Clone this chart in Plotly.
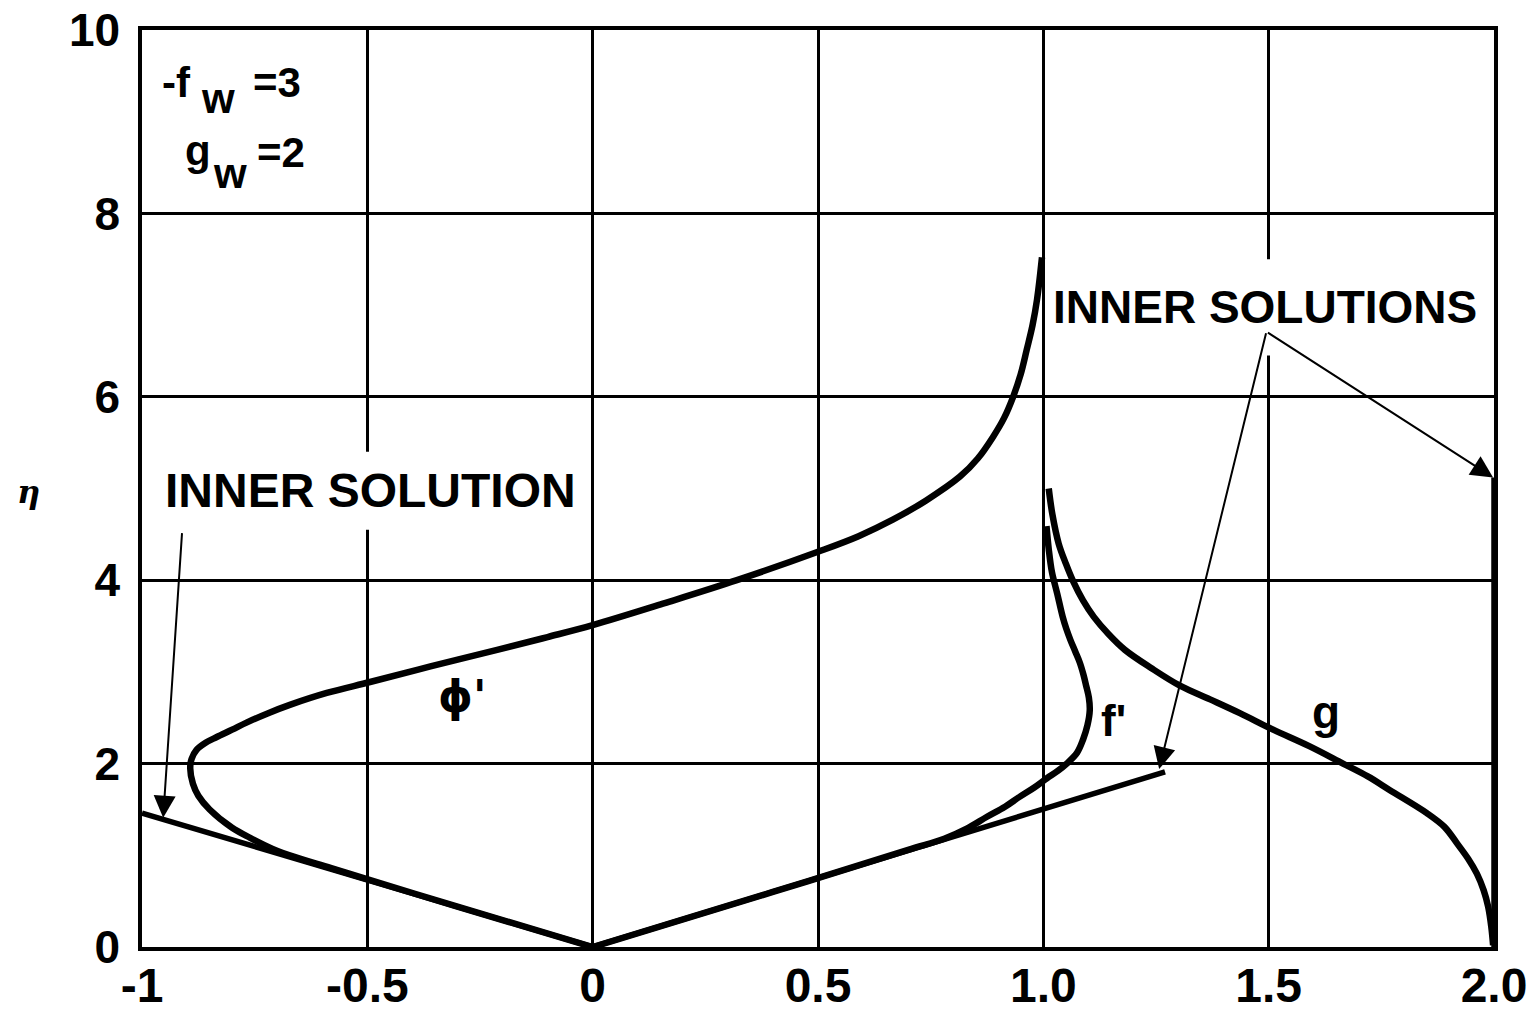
import plotly.graph_objects as go

# φ' curve
phi_x = [0.0, -0.3, -0.58, -0.66, -0.71, -0.76, -0.80, -0.85, -0.875, -0.887, -0.893, -0.89, -0.879,
         -0.858, -0.834, -0.80, -0.767, -0.72, -0.672, -0.59, -0.494, -0.36, -0.212, -0.1, 0.0,
         0.16, 0.32, 0.5, 0.59, 0.666, 0.74, 0.815, 0.855, 0.888, 0.913, 0.933, 0.95, 0.963,
         0.976, 0.986, 0.997]
phi_y = [0.0, 0.44, 0.86, 0.98, 1.07, 1.19, 1.30, 1.50, 1.65, 1.78, 1.95, 2.05, 2.15,
         2.23, 2.29, 2.37, 2.45, 2.55, 2.64, 2.77, 2.89, 3.06, 3.24, 3.38, 3.51,
         3.75, 4.0, 4.31, 4.48, 4.66, 4.87, 5.13, 5.33, 5.56, 5.77, 6.0, 6.25, 6.51,
         6.78, 7.06, 7.52]
# f' curve
fp_x = [0.0, 0.4, 0.7, 0.78, 0.83, 0.875, 0.915, 0.948, 0.98, 1.008, 1.032, 1.052, 1.075, 1.088,
        1.098, 1.103, 1.101, 1.095, 1.089, 1.081, 1.071, 1.06, 1.051, 1.043, 1.031, 1.019, 1.012, 1.007]
fp_y = [0.0, 0.6, 1.06, 1.18, 1.29, 1.42, 1.53, 1.64, 1.74, 1.84, 1.92, 2.0, 2.12, 2.26,
        2.42, 2.58, 2.72, 2.85, 2.97, 3.1, 3.22, 3.35, 3.47, 3.6, 3.85, 4.09, 4.34, 4.59]
# g curve
g_x = [1.012, 1.02, 1.034, 1.05, 1.066, 1.088, 1.112, 1.145, 1.181, 1.24, 1.303, 1.37, 1.436,
       1.51, 1.59, 1.665, 1.72, 1.769, 1.851, 1.89, 1.918, 1.943, 1.962, 1.977, 1.987, 1.994, 1.998]
g_y = [5.0, 4.72, 4.4, 4.18, 3.99, 3.78, 3.6, 3.41, 3.24, 3.04, 2.85, 2.70, 2.55,
       2.37, 2.19, 2.0, 1.86, 1.71, 1.46, 1.31, 1.13, 0.96, 0.8, 0.62, 0.44, 0.22, 0.02]
# inner solutions (straight lines)
inner_phi_x = [-1.0, 0.0]
inner_phi_y = [1.46, 0.0]
inner_f_x = [0.0, 1.27]
inner_f_y = [0.0, 1.91]
inner_g_x = [2.0, 2.0]
inner_g_y = [0.0, 5.12]

x_ticks = [-1, -0.5, 0, 0.5, 1.0, 1.5, 2.0]
x_tick_labels = ["-1", "-0.5", "0", "0.5", "1.0", "1.5", "2.0"]
y_ticks = [0, 2, 4, 6, 8, 10]
y_tick_labels = ["0", "2", "4", "6", "8", "10"]

FONT = "Liberation Sans"
BFONT = dict(family=FONT, color="black", weight="bold")


def px2x(px):
    return -1 + (px - 142) / 450.67


def py2y(py):
    return (947 - py) / 91.7


fig = go.Figure()
for xs, ys in [(inner_phi_x, inner_phi_y), (inner_f_x, inner_f_y), (inner_g_x, inner_g_y)]:
    fig.add_trace(go.Scatter(x=xs, y=ys, mode="lines", line=dict(color="black", width=5.5),
                             showlegend=False, hoverinfo="skip"))
for xs, ys in [(phi_x, phi_y), (fp_x, fp_y), (g_x, g_y)]:
    fig.add_trace(go.Scatter(x=xs, y=ys, mode="lines",
                             line=dict(color="black", width=6.5, shape="spline", smoothing=1.0),
                             showlegend=False, hoverinfo="skip"))

axis_common = dict(showgrid=True, gridcolor="black", gridwidth=2.5, zeroline=False,
                   showline=True, linecolor="black", linewidth=3.5, mirror=True, ticks="",
                   automargin=False, ticklabeloverflow="allow")
fig.update_xaxes(range=[-1, 2.0], tickvals=x_ticks, ticktext=x_tick_labels,
                 ticklabelstandoff=-6,
                 tickfont=dict(family=FONT, size=48, color="black", weight="bold"),
                 **axis_common)
fig.update_yaxes(range=[0, 10], tickvals=y_ticks, ticktext=y_tick_labels,
                 ticklabelstandoff=9,
                 tickfont=dict(family=FONT, size=46, color="black", weight="bold"),
                 **axis_common)

# white gaps in gridlines behind labels
fig.add_shape(type="rect", x0=1.47, x1=1.53, y0=6.45, y1=7.5, fillcolor="white",
              line_width=0, layer="between")
fig.add_shape(type="rect", x0=-0.53, x1=-0.47, y0=4.55, y1=5.4, fillcolor="white",
              line_width=0, layer="between")

fig.add_annotation(x=px2x(370), y=py2y(490), text="INNER SOLUTION", showarrow=False,
                   font=dict(size=48, **BFONT))
fig.add_annotation(x=px2x(1265), y=py2y(307), text="INNER SOLUTIONS", showarrow=False,
                   font=dict(size=46, **BFONT))
arrow = dict(showarrow=True, arrowhead=2, arrowsize=2.2, arrowwidth=2, arrowcolor="black",
             axref="x", ayref="y", xref="x", yref="y", text="")
fig.add_annotation(x=-0.953, y=1.41, ax=-0.911, ay=4.53, **arrow)
fig.add_annotation(x=1.257, y=1.94, ax=1.495, ay=6.71, **arrow)
fig.add_annotation(x=1.998, y=5.12, ax=1.495, ay=6.71, **arrow)

fig.add_annotation(x=px2x(462), y=py2y(696), text="ϕ'", showarrow=False,
                   font=dict(size=44, family="DejaVu Sans", color="black", weight="bold"))
fig.add_annotation(x=px2x(1114), y=py2y(720), text="f'", showarrow=False,
                   font=dict(size=44, **BFONT))
fig.add_annotation(x=px2x(1326), y=py2y(712), text="g", showarrow=False,
                   font=dict(size=46, **BFONT))
# parameter box texts
for txt, pxl, pyc in [("-f", 160, 82), ("w", 199, 98), ("=3", 251, 82),
                      ("g", 183, 150), ("w", 211, 173), ("=2", 255, 152)]:
    fig.add_annotation(x=px2x(pxl), y=py2y(pyc), text=txt, showarrow=False, xanchor="left",
                       font=dict(size=42, **BFONT))
fig.add_annotation(x=-0.094, xref="paper", y=py2y(492), yref="y", text="<b><i>η</i></b>",
                   showarrow=False, font=dict(family="DejaVu Serif", size=32, color="black"))

# page body margin removed so the figure starts at the window's top-left corner
fig.update_layout(width=1533, height=1013, margin=dict(l=142, r=39, t=30, b=66),
                  plot_bgcolor="white", paper_bgcolor="white")
fig.write_html("out.html", config={"displayModeBar": False},
               post_script="document.body.style.margin='0';")
